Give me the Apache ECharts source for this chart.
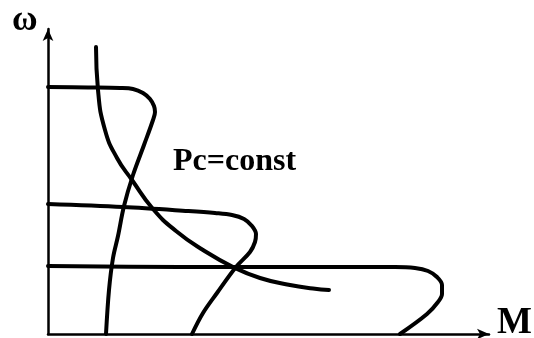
<!DOCTYPE html>
<html>
<head>
<meta charset="utf-8">
<script src="https://cdn.jsdelivr.net/npm/echarts@6/dist/echarts.min.js"></script>
<style>
html,body{margin:0;padding:0;background:#fff;}
#chart{width:534px;height:338px;}
</style>
</head>
<body>
<div id="chart"></div>
<script>
// Values (arbitrary units: M along x, ω along y)
var curveTop = [[0,247],[40,246.5],[72,246],[85,245],[95,241],[102,235],[106,228],[107,222],[105,214],[96,189],[85,159],[76,128],[70,98],[65,76],[61,44],[58,0]];
var curveMid = [[0,130],[75,127],[140,123],[167,121],[184,119],[196,115],[204,108],[208,100],[207,92],[202,82],[188,67],[169,41],[155,21],[144,0]];
var curveLow = [[0,68],[132,67],[282,67],[347,67],[367,66],[380,63],[389,57],[394,49],[394,40],[390,32],[379,20],[352,0]];
var curvePc = [[48,287],[50,244],[57,204],[69,176],[84,154],[105,125],[128,103],[155,84],[185,67],[212,56],[242,49],[265,45.5],[281,44]];
var xName = 'M';
var yName = 'ω';
var curveLabel = 'Pc=const';
var xMax = 441;
var yMax = 305;

var chart = echarts.init(document.getElementById('chart'), null, {renderer:'canvas'});
function mk(data, s){
  return {type:'line', data:data, smooth:s, showSymbol:false, symbol:'none',
    lineStyle:{color:'#000', width:4, cap:'round', join:'round'}, silent:true, animation:false};
}
var axisLine = {show:true, symbol:['none','arrow'], symbolSize:[8,12], lineStyle:{color:'#000', width:2.5}};
chart.setOption({
  animation:false,
  backgroundColor:'#fff',
  grid:{left:48, right:45, top:29, bottom:4},
  xAxis:{type:'value', min:0, max:xMax, axisLine:axisLine, axisTick:{show:false}, axisLabel:{show:false}, splitLine:{show:false}},
  yAxis:{type:'value', min:0, max:yMax, axisLine:axisLine, axisTick:{show:false}, axisLabel:{show:false}, splitLine:{show:false}},
  series:[mk(curveTop,0.35), mk(curveMid,0.35), mk(curveLow,0.35), mk(curvePc,0.5)],
  graphic:[
    {type:'text', left:12, top:3, style:{text:yName, font:'bold 35px "Liberation Serif"', fill:'#000'}},
    {type:'text', left:497, top:305, style:{text:xName, font:'bold 37px "Liberation Serif"', fill:'#000'}},
    {type:'text', left:173, top:146, style:{text:curveLabel, font:'bold 32px "Liberation Serif"', fill:'#000'}}
  ]
});
</script>
</body>
</html>
